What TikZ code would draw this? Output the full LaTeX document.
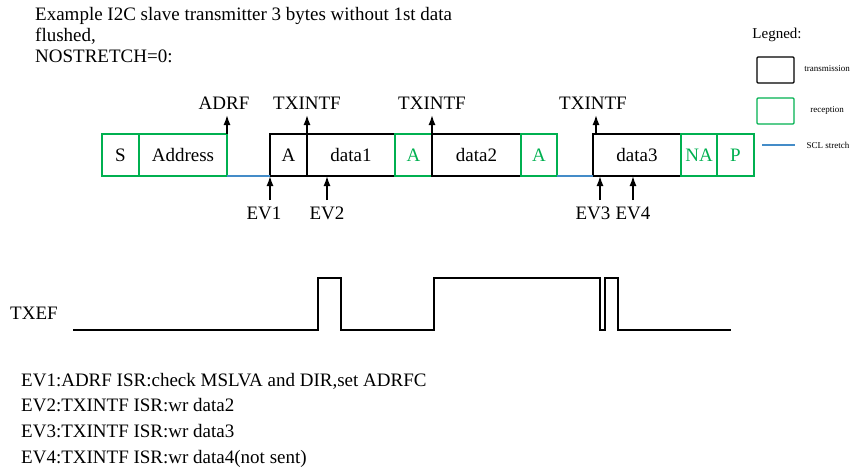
\documentclass[tikz,border=0pt]{standalone}
\usepackage{fontspec}
\setmainfont{Liberation Serif}
\usetikzlibrary{arrows.meta}
\usetikzlibrary{math, positioning}
\definecolor{mygreen}{RGB}{0, 176, 80}
\definecolor{myblue}{RGB}{68, 140, 200}

\begin{document}
\begin{tikzpicture}[x=1pt, y=-1pt, font=\fontsize{19}{22}\selectfont,
  txbox/.style={draw, line width=1.2, minimum height=42, inner sep=0, outer sep=0},
  rxbox/.style={txbox, draw=mygreen},
  lbl/.style={inner sep=2.5, text height=12.5, text depth=3},
  flag/.style={-{Latex[length=10pt, width=7pt]}, line width=1.5},
  txt/.style={anchor=west, inner sep=0, text height=12.5, text depth=4}]
\tikzmath{
\yl=330;
\yh=278;
}
\useasboundingbox (0,0) rectangle (854,475);

% title
\node[txt] (t1) at (35,16) {Example I2C slave transmitter 3 bytes without 1st data};
\node[txt] (t2) at (35,37) {flushed,};
\node[txt] (t3) at (35,58) {NOSTRETCH=0:};

% frame sequence
\node[rxbox, minimum width=37, anchor=north west] (S) at (102,134) {S};
\node[rxbox, minimum width=88, right=0pt of S] (addr) {Address};
\node[txbox, minimum width=37, right=43pt of addr] (A1) {A};
\node[txbox, minimum width=88, right=0pt of A1] (d1) {data1};
\node[rxbox, text=mygreen, minimum width=37, right=0pt of d1] (A2) {A};
\node[txbox, minimum width=89, right=0pt of A2] (d2) {data2};
\node[rxbox, text=mygreen, minimum width=36, right=0pt of d2] (A3) {A};
\node[txbox, minimum width=88, right=36pt of A3] (d3) {data3};
\node[rxbox, text=mygreen, minimum width=36, right=0pt of d3] (NA) {NA};
\node[rxbox, text=mygreen, minimum width=37, right=0pt of NA] (P) {P};

\draw[myblue, line width=1.2] (addr.south east) -- (A1.south west);
\draw[myblue, line width=1.2] (A3.south east) -- (d3.south west);

% flags
\node[lbl, above=19pt of addr.north east, xshift=-3pt] (adrf) {ADRF};
\node[lbl, above=19pt of A1.north east] (tx1) {TXINTF};
\node[lbl, above=19pt of A2.north east] (tx2) {TXINTF};
\node[lbl, above=19pt of d3.north west] (tx3) {TXINTF};
\coordinate[xshift=3pt] (f3) at (d3.north west);
\draw[flag] (addr.north east) -- (adrf.south -| addr.north east);
\draw[flag] (A1.north east) -- (tx1);
\draw[flag] (A2.north east) -- (tx2);
\draw[flag] (f3) -- (tx3.south -| f3);

% events
\coordinate (e1) at (A1.south west);
\coordinate[xshift=20pt] (e2) at (d1.south west);
\coordinate[xshift=7pt] (e3) at (d3.south west);
\coordinate[xshift=40pt] (e4) at (d3.south west);
\node[lbl, below=28pt of e1, xshift=-6pt] (ev1) {EV1};
\node[lbl, below=28pt of e2] (ev2) {EV2};
\node[lbl, below=28pt of e3, xshift=-7pt] (ev3) {EV3};
\node[lbl, below=28pt of e4] (ev4) {EV4};
\foreach \i in {1,...,4}
  \draw[flag, shorten <=4pt] (ev\i.north -| e\i) -- (e\i);

% TXEF
\node[txt] (txef) at (10,315) {TXEF};
\draw[line width=1.5] (73,\yl) -- (318,\yl) -- (318,\yh) -- (341,\yh) -- (341,\yl)
  -- (434,\yl) -- (434,\yh) -- (600,\yh) -- (600,\yl) -- (605,\yl) -- (605,\yh)
  -- (618,\yh) -- (618,\yl) -- (731,\yl);

% events list
\node[txt] (l1) at (21,382) {EV1:ADRF ISR:check MSLVA and DIR,set ADRFC};
\node[txt] (l2) at (21,407) {EV2:TXINTF ISR:wr data2};
\node[txt] (l3) at (21,433) {EV3:TXINTF ISR:wr data3};
\node[txt] (l4) at (21,459) {EV4:TXINTF ISR:wr data4(not sent)};

% legend
\node[font=\fontsize{15}{17}\selectfont] (leg) at (777,35) {Legned:};
\draw[line width=1.2, rounded corners=1] (757,57) rectangle (794,83);
\draw[mygreen, line width=1.2, rounded corners=1] (757,98) rectangle (794,124);
\draw[myblue, line width=1.2] (762,145) -- (795,145);
\node[font=\fontsize{9}{11}\selectfont] (lt) at (827,69) {transmission};
\node[font=\fontsize{9}{11}\selectfont] (lr) at (827,110) {reception};
\node[font=\fontsize{9}{11}\selectfont] (ls) at (828,145) {SCL stretch};
\end{tikzpicture}
\end{document}
